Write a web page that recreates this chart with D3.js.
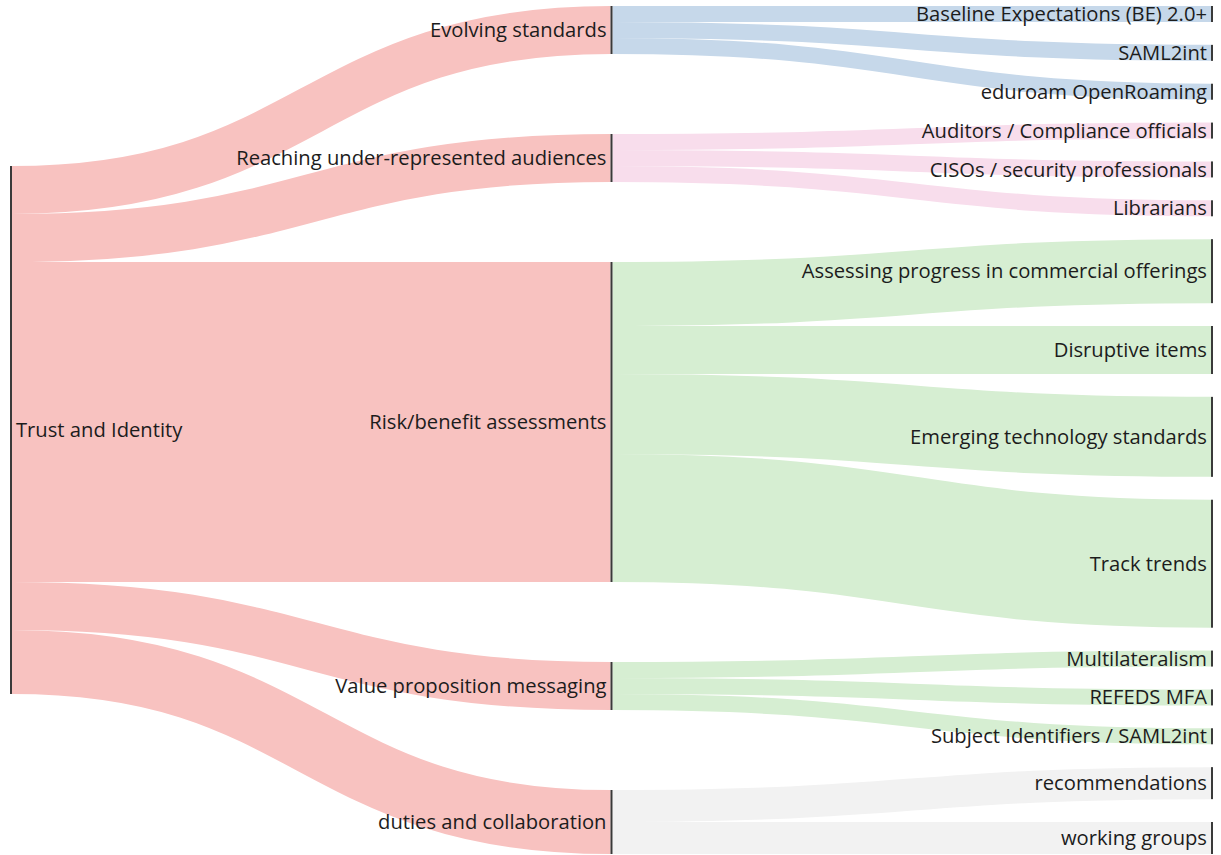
<!DOCTYPE html>
<html lang="en">
<head>
  <meta charset="UTF-8">
  <title>Trust and Identity</title>
  <script src="https://d3js.org/d3.v7.min.js"></script>
  <style>
    body { margin: 0; background: #fff; }
    text { font-family: "Open Sans", "Noto Sans", sans-serif; font-size: 20.2px; font-weight: 500; fill: #1c1c1c; }
  </style>
</head>
<body>
<div id="chart"></div>
<script>
// ====== DATA ======
var root = "Trust and Identity";
var themes = ["Evolving standards", "Reaching under-represented audiences", "Risk/benefit assessments",
              "Value proposition messaging", "duties and collaboration"];
var topics = ["Baseline Expectations (BE) 2.0+", "SAML2int", "eduroam OpenRoaming",
              "Auditors / Compliance officials", "CISOs / security professionals", "Librarians",
              "Assessing progress in commercial offerings", "Disruptive items", "Emerging technology standards", "Track trends",
              "Multilateralism", "REFEDS MFA", "Subject Identifiers / SAML2int",
              "recommendations", "working groups"];
var topicTheme  = [0, 0, 0, 1, 1, 1, 2, 2, 2, 2, 3, 3, 3, 4, 4];
var topicValues = [1, 1, 1, 1, 1, 1, 4, 3, 5, 8, 1, 1, 1, 2, 2];

var themeColors = ["#c6d8ea", "#f8ddec", "#d6eed2", "#d6eed2", "#f2f2f2"];
var rootColor = "#f8c2c0";

var width = 1221, height = 855;
var x0 = 10, x1 = 1213, y0 = 6, y1 = 854;
var nodeWidth = 2, nodePadding = 22.86;

// ====== BUILD GRAPH ======
var nodes = [{name: root}].concat(themes.map(function(d) { return {name: d}; }),
                                  topics.map(function(d) { return {name: d}; }));
var links = [];
themes.forEach(function(t, i) {
  var v = d3.sum(topicValues.filter(function(d, j) { return topicTheme[j] === i; }));
  links.push({source: 0, target: 1 + i, value: v, color: rootColor});
});
topics.forEach(function(t, j) {
  links.push({source: 1 + topicTheme[j], target: 1 + themes.length + j, value: topicValues[j],
              color: themeColors[topicTheme[j]]});
});

// ====== LAYOUT ======
// columns by depth, each column spread over the full height (single node centred)
function sankeyLayout(nodes, links) {
  nodes.forEach(function(n) { n.sourceLinks = []; n.targetLinks = []; });
  links.forEach(function(l) {
    l.source = nodes[l.source]; l.target = nodes[l.target];
    l.source.sourceLinks.push(l); l.target.targetLinks.push(l);
  });
  nodes.forEach(function(n) {
    n.value = Math.max(d3.sum(n.sourceLinks, function(l) { return l.value; }),
                       d3.sum(n.targetLinks, function(l) { return l.value; }));
  });
  var current = new Set(nodes), next = new Set(), x = 0;
  while (current.size) {
    current.forEach(function(n) { n.depth = x; n.sourceLinks.forEach(function(l) { next.add(l.target); }); });
    x++; current = next; next = new Set();
  }
  var nCols = d3.max(nodes, function(n) { return n.depth; }) + 1;
  var xScale = d3.scaleLinear().domain([0, nCols - 1]).range([x0, x1 - nodeWidth]);
  var columns = d3.range(nCols).map(function() { return []; });
  nodes.forEach(function(n) {
    var i = n.sourceLinks.length ? n.depth : nCols - 1;
    n.x0 = xScale(i);
    n.x1 = n.x0 + nodeWidth;
    columns[i].push(n);
  });

  var ky = d3.min(columns, function(c) {
    return (y1 - y0 - (c.length - 1) * nodePadding) / d3.sum(c, function(n) { return n.value; });
  });
  columns.forEach(function(col) {
    var total = d3.sum(col, function(n) { return n.value; }) * ky;
    var gap = col.length > 1 ? (y1 - y0 - total) / (col.length - 1) : 0;
    var y = col.length > 1 ? y0 : (y0 + y1 - total) / 2;
    col.forEach(function(n) {
      n.y0 = y; n.y1 = y + n.value * ky; y = n.y1 + gap;
      n.sourceLinks.forEach(function(l) { l.width = l.value * ky; });
    });
  });
  nodes.forEach(function(n) {
    n.sourceLinks.sort(function(a, b) { return a.target.y0 - b.target.y0; });
    n.targetLinks.sort(function(a, b) { return a.source.y0 - b.source.y0; });
    var a = n.y0, b = n.y0;
    n.sourceLinks.forEach(function(l) { l.y0 = a + l.width / 2; a += l.width; });
    n.targetLinks.forEach(function(l) { l.y1 = b + l.width / 2; b += l.width; });
  });
}

sankeyLayout(nodes, links);

// ====== DRAW ======
var svg = d3.select("#chart").append("svg")
    .attr("width", width)
    .attr("height", height);

var linkPath = d3.linkHorizontal()
    .source(function(d) { return [d.source.x1, d.y0]; })
    .target(function(d) { return [d.target.x0, d.y1]; });

svg.append("g")
    .attr("fill", "none")
  .selectAll("path")
  .data(links)
  .join("path")
    .attr("d", linkPath)
    .attr("stroke", function(d) { return d.color; })
    .attr("stroke-width", function(d) { return Math.max(1, d.width); });

svg.append("g")
  .selectAll("rect")
  .data(nodes)
  .join("rect")
    .attr("x", function(d) { return d.x0; })
    .attr("y", function(d) { return d.y0; })
    .attr("width", function(d) { return d.x1 - d.x0; })
    .attr("height", function(d) { return d.y1 - d.y0; })
    .attr("fill", "#3a3a3a");

svg.append("g")
  .selectAll("text")
  .data(nodes)
  .join("text")
    .attr("x", function(d) { return d.x0 < width / 2 ? d.x1 + 4 : d.x0 - 4; })
    .attr("y", function(d) { return (d.y0 + d.y1) / 2; })
    .attr("dy", "0.35em")
    .attr("text-anchor", function(d) { return d.x0 < width / 2 ? "start" : "end"; })
    .text(function(d) { return d.name; });
</script>
</body>
</html>
